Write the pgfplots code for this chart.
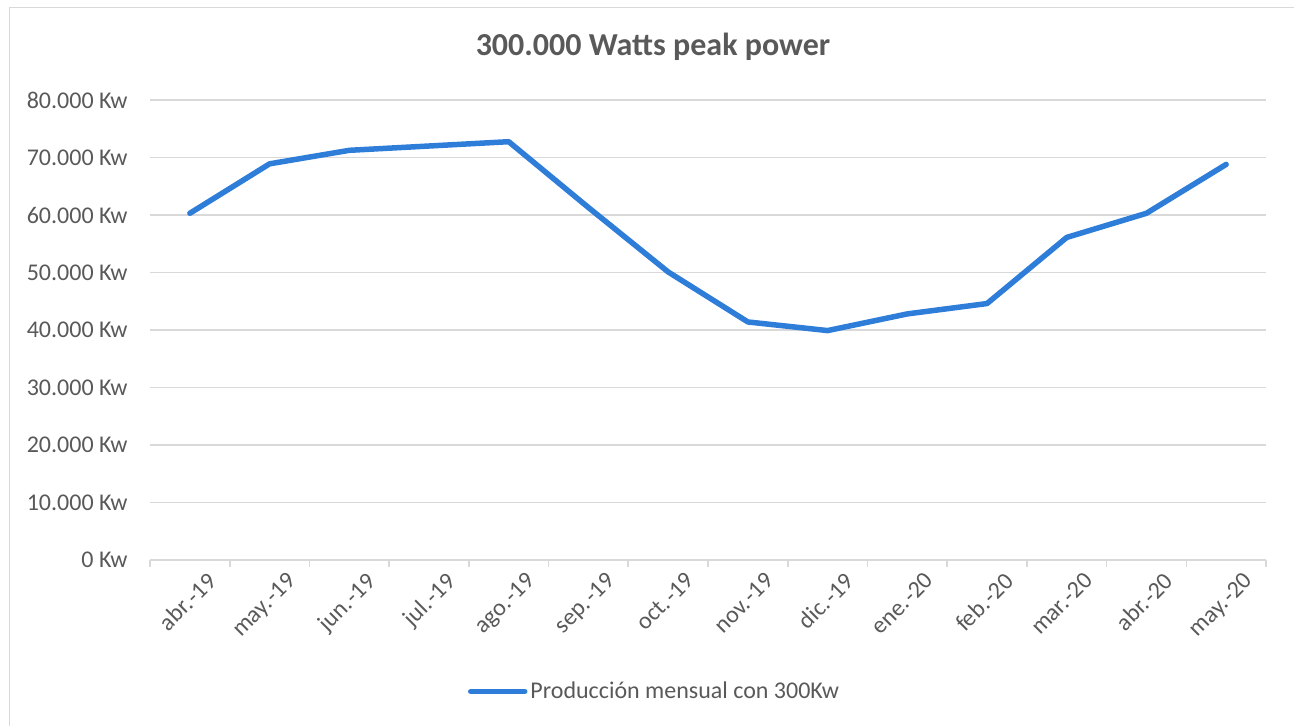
\documentclass[border=0pt]{standalone}
\usepackage{fontspec}
\setmainfont{Carlito}
\usepackage{pgfplots}
\pgfplotsset{compat=1.18}
\definecolor{serie}{RGB}{46,125,216}
\definecolor{txt}{RGB}{89,89,89}
\definecolor{gridc}{RGB}{217,217,217}
\begin{document}
\begin{tikzpicture}
\useasboundingbox (0pt,0pt) rectangle (647pt,-363pt);
\draw[gridc, line width=0.8pt] (4.75pt,-380pt) -- (4.75pt,-3.75pt) -- (700pt,-3.75pt);
\node[txt, font=\fontsize{16}{19}\selectfont\bfseries] at (326.5pt,-23.5pt) {300.000 Watts peak power};
\begin{axis}[
  at={(75pt,-280pt)}, anchor=south west,
  scale only axis, width=558pt, height=230pt,
  xmin=-0.5, xmax=13.5, ymin=0, ymax=80000,
  axis line style={draw=none},
  scaled y ticks=false,
  ytick={0,10000,...,80000},
  yticklabels={0 Kw,10.000 Kw,20.000 Kw,30.000 Kw,40.000 Kw,50.000 Kw,60.000 Kw,70.000 Kw,80.000 Kw},
  xtick={0,...,13},
  xticklabels={abr.\kern0.8pt-19,may.\kern0.8pt-19,jun.\kern0.8pt-19,jul.\kern0.8pt-19,ago.\kern0.8pt-19,sep.\kern0.8pt-19,oct.\kern0.8pt-19,nov.\kern0.8pt-19,dic.\kern0.8pt-19,ene.\kern0.8pt-20,feb.\kern0.8pt-20,mar.\kern0.8pt-20,abr.\kern0.8pt-20,may.\kern0.8pt-20},
  minor xtick={-0.5,0.5,...,13.5},
  major tick length=0pt, minor tick length=3.3pt,
  tick align=outside, xtick pos=left, ytick pos=left,
  minor tick style={gridc, line width=0.8pt},
  ymajorgrids, grid style={gridc, line width=0.8pt},
  tick label style={txt, font=\fontsize{12}{14}\selectfont},
  y tick label style={anchor=east, inner sep=0pt, xshift=-11pt},
  x tick label style={rotate=45, anchor=north east, inner sep=0pt, xshift=2pt, yshift=-9.5pt},
  legend style={at={(0.4525,-0.286)}, anchor=center, draw=none, fill=none, text=txt, font=\fontsize{12}{14}\selectfont, nodes={inner xsep=1.5pt}},
  legend image code/.code={\draw[#1, line width=2.75pt, line cap=round] (0pt,0pt) -- (27pt,0pt);},
  clip=false,
]
\addplot[serie, line width=2.75pt, line join=round, line cap=round] coordinates {
(0,60300) (1,68900) (2,71250) (3,72000) (4,72750) (5,61300) (6,50100)
(7,41400) (8,39900) (9,42800) (10,44600) (11,56100) (12,60300) (13,68800)
};
\addlegendentry{Producción mensual con 300Kw}
\end{axis}
\end{tikzpicture}
\end{document}
